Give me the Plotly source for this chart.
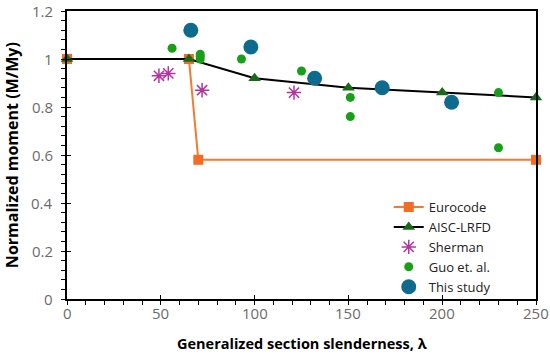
import plotly.graph_objects as go

euro_x = [0, 65, 70, 250]
euro_y = [1.0, 1.0, 0.58, 0.58]

aisc_x = [0, 65, 100, 150, 200, 250]
aisc_y = [1.0, 1.0, 0.92, 0.88, 0.86, 0.84]

sher_x = [49, 54, 72, 121]
sher_y = [0.93, 0.94, 0.87, 0.86]

guo_x = [56, 71, 71, 71, 93, 125, 151, 151, 230, 230]
guo_y = [1.045, 1.0, 1.01, 1.02, 1.0, 0.95, 0.84, 0.76, 0.86, 0.63]

study_x = [66, 98, 132, 168, 205]
study_y = [1.12, 1.05, 0.92, 0.88, 0.82]

x_ticks = [0, 50, 100, 150, 200, 250]
x_labels = ["0", "50", "100", "150", "200", "250"]
y_ticks = [0, 0.2, 0.4, 0.6, 0.8, 1.0, 1.2]
y_labels = ["0", "0.2", "0.4", "0.6", "0.8", "1", "1.2"]

FONT = "Open Sans"
TICKC = "#6b6b6b"
fig = go.Figure()

fig.add_trace(go.Scatter(x=euro_x, y=euro_y, name="Eurocode", mode="lines+markers",
                         line=dict(color="#F47A30", width=2), cliponaxis=False,
                         marker=dict(symbol="square", size=10, color="#F26C24")))
fig.add_trace(go.Scatter(x=aisc_x, y=aisc_y, name="AISC-LRFD", mode="lines+markers",
                         line=dict(color="black", width=2), cliponaxis=False,
                         marker=dict(symbol="triangle-up", size=11, color="#186A18")))
fig.add_trace(go.Scatter(x=sher_x, y=sher_y, name="Sherman", mode="markers",
                         marker=dict(symbol="asterisk-open", size=12, color="#B2359F",
                                     line=dict(color="#B2359F", width=1.5))))
fig.add_trace(go.Scatter(x=guo_x, y=guo_y, name="Guo et. al.", mode="markers",
                         marker=dict(symbol="circle", size=9, color="#17A017")))
fig.add_trace(go.Scatter(x=study_x, y=study_y, name="This study", mode="markers",
                         marker=dict(symbol="circle", size=15, color="#0F6B8E")))

# overlay axes for inward major tick halves
fig.add_trace(go.Scatter(x=[0], y=[0], xaxis="x2", yaxis="y2", mode="markers",
                         marker=dict(opacity=0), showlegend=False, hoverinfo="skip"))

annotations = []
for v, t in zip(x_ticks, x_labels):
    annotations.append(dict(text=t, x=v, xref="x", y=-0.047, yref="paper",
                            xanchor="center", yanchor="middle", showarrow=False,
                            font=dict(size=15, color=TICKC, family=FONT)))
for v, t in zip(y_ticks, y_labels):
    annotations.append(dict(text=t, x=-0.026, xref="paper", y=v, yref="y",
                            xanchor="right", yanchor="middle", showarrow=False,
                            font=dict(size=15, color=TICKC, family=FONT)))
annotations += [
    dict(text="<b>Generalized section slenderness, λ</b>", xref="paper", yref="paper",
         x=0.5, y=-0.155, xanchor="center", yanchor="middle", showarrow=False,
         font=dict(size=14.5, color="black", family=FONT)),
    dict(text="<b>Normalized moment (M/My)</b>", xref="paper", yref="paper",
         x=-0.117, y=0.5, xanchor="center", yanchor="middle", showarrow=False,
         textangle=-90, font=dict(size=16, color="black", family=FONT)),
]

fig.update_layout(
    width=550, height=357,
    margin=dict(l=67, r=14, t=11, b=58, autoexpand=False),
    paper_bgcolor="white", plot_bgcolor="white",
    font=dict(family=FONT, size=15, color=TICKC),
    showlegend=True,
    legend=dict(x=0.686, y=0.371, xanchor="left", yanchor="top",
                bgcolor="rgba(0,0,0,0)", font=dict(size=13, color="#222222"),
                tracegroupgap=0, itemwidth=30),
    xaxis=dict(range=[0, 250], tickvals=x_ticks, ticks="outside", ticklen=4,
               tickcolor="black", linecolor="black", linewidth=1.5, showline=True,
               mirror=True, showgrid=False, zeroline=False, showticklabels=False,
               minor=dict(dtick=10, ticks="outside", ticklen=4, tickcolor="black")),
    yaxis=dict(range=[0, 1.2], tickvals=y_ticks, ticks="outside",
               ticklen=4, tickcolor="black", linecolor="black", linewidth=1.5,
               showline=True, mirror=True, showgrid=False, zeroline=False,
               showticklabels=False,
               minor=dict(dtick=0.04, ticks="outside", ticklen=4, tickcolor="black")),
    xaxis2=dict(range=[0, 250], tickvals=x_ticks, ticks="inside", ticklen=4,
                tickcolor="black", showticklabels=False, showgrid=False,
                zeroline=False, overlaying="x", side="bottom", showline=False),
    yaxis2=dict(range=[0, 1.2], tickvals=y_ticks, ticks="inside", ticklen=4,
                tickcolor="black", showticklabels=False, showgrid=False,
                zeroline=False, overlaying="y", side="left", showline=False),
    annotations=annotations,
)

fig.write_html("out.html", config={"displayModeBar": False},
               post_script="document.body.style.margin='0';document.body.style.padding='0';")
